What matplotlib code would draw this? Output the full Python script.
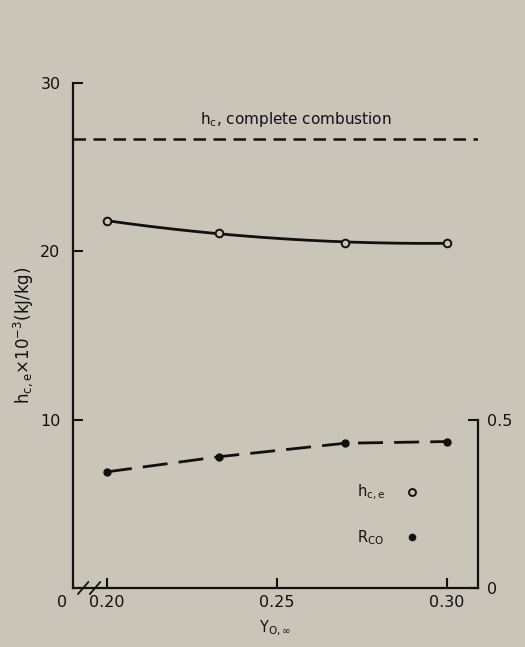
import numpy as np
from matplotlib import pyplot as plt

# oxygen mass fraction (x) and measured values
y_ox = [0.20, 0.233, 0.27, 0.30]
h_ce = [21.8, 21.1, 20.5, 20.5]          # kJ/kg x 10^-3
r_co = [0.345, 0.39, 0.43, 0.435]        # right axis, 0..0.5
h_complete = 26.7

BG = '#c9c6b9'
INK = '#111111'

plt.rcParams['font.family'] = ['DejaVu Sans']

fig = plt.figure(figsize=(5.25, 6.47), dpi=100, facecolor=BG)
ax = fig.add_axes([0.139, 0.0912, 0.771, 0.7805])
ax.set_facecolor(BG)

ax.set_xlim(0.19, 0.309)
ax.set_ylim(0, 30)

# smooth solid curve through h_c,e
coef = np.polyfit(y_ox, h_ce, 2)
xs = np.linspace(y_ox[0], y_ox[-1], 200)
ax.plot(xs, np.polyval(coef, xs), color=INK, lw=2)
ax.plot(y_ox, h_ce, 'o', ms=5.5, mfc=BG, mec=INK, mew=1.4, zorder=3)

# complete combustion reference line
ax.axhline(h_complete, color=INK, lw=1.8, dashes=(5, 3))
ax.text(0.2555, h_complete + 0.55, r'h$_\mathrm{c}$, complete combustion',
        ha='center', va='bottom', fontsize=11, color=INK)

# R_CO on a right-hand scale (0.5 <-> 10)
ax2 = ax.twinx()
ax2.set_ylim(0, 1.5)
ax2.plot(y_ox, r_co, color=INK, lw=2, dashes=(9, 4))
ax2.plot(y_ox, r_co, 'o', ms=5, color=INK, zorder=3)

for a in (ax, ax2):
    a.spines['top'].set_visible(False)
    for s in a.spines.values():
        s.set_color(INK)
        s.set_linewidth(1.6)
ax.spines['right'].set_visible(False)
ax2.spines['left'].set_visible(False)
ax2.spines['bottom'].set_visible(False)
ax2.spines['right'].set_bounds(0, 0.5)

ax.set_yticks([10, 20, 30])
ax.set_yticklabels(['10', '20', '30'])
ax.set_xticks([0.20, 0.25, 0.30])
ax.set_xticklabels(['0.20', '0.25', '0.30'])
ax.tick_params(axis='both', direction='in', length=7, width=1.5,
               colors=INK, labelsize=11.5, pad=5)
ax.tick_params(axis='y', pad=9)

ax2.set_yticks([0, 0.5])
ax2.set_yticklabels(['0', '0.5'])
ax2.tick_params(axis='y', direction='in', length=7, width=1.5,
                colors=INK, labelsize=11.5, pad=7)

# axis break mark and origin label
for dx in (0.0, 0.0035):
    ax.plot([0.1915 + dx, 0.1945 + dx], [-0.35, 0.35], color=INK, lw=1.3,
            clip_on=False)
ax.text(0.1868, -0.4, '0', ha='center', va='top', fontsize=11.5, color=INK)

ax.set_xlabel(r'Y$_\mathrm{O,\infty}$', fontsize=10.5, color=INK, labelpad=6)
ax.set_ylabel(r'h$_\mathrm{c,e}$×10$^{-3}$(kJ/kg)', fontsize=12,
              color=INK, labelpad=4)

# legend written as text
ax.text(0.2735, 5.7, r'h$_\mathrm{c,e}$', fontsize=10.5, color=INK,
        va='center', ha='left')
ax.plot([0.2897], [5.7], 'o', ms=5, mfc=BG, mec=INK, mew=1.4)
ax.text(0.2735, 3.0, r'R$_\mathrm{CO}$', fontsize=10.5, color=INK,
        va='center', ha='left')
ax.plot([0.2897], [3.0], 'o', ms=4.5, color=INK)

plt.savefig('out.png', dpi=100, facecolor=BG)
